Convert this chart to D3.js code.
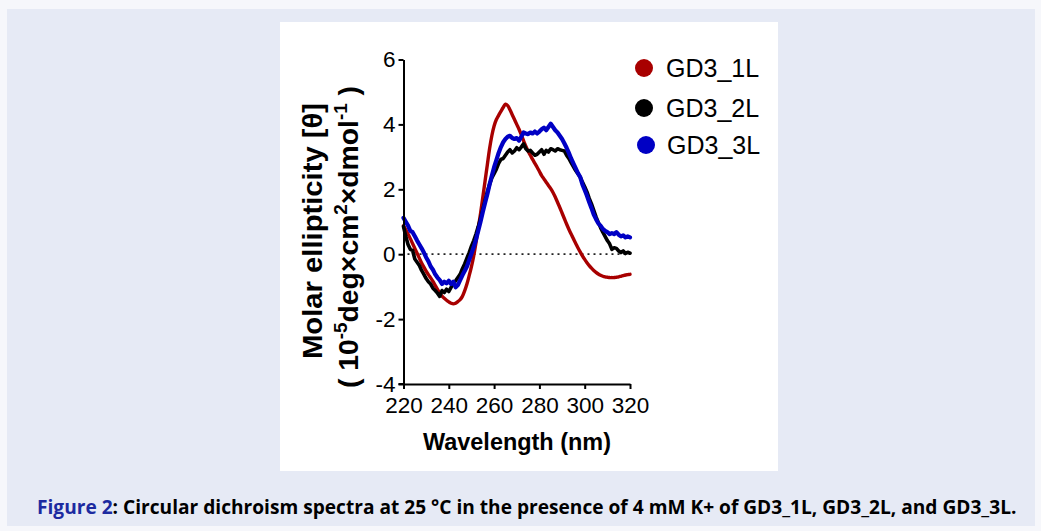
<!DOCTYPE html>
<html><head><meta charset="utf-8">
<script src="https://cdn.jsdelivr.net/npm/d3@7"></script>
<style>html,body{margin:0;padding:0;background:#f6f7fb;} svg{display:block}</style>
</head><body><svg id="c" width="1041" height="531"></svg>
<script>
// ---------- DATA ----------
const wavelength = [220,221,222,223,224,225,226,227,228,229,230,231,232,233,234,235,236,237,238,239,240,241,242,243,244,245,246,247,248,249,250,251,252,253,254,255,256,257,258,259,260,261,262,263,264,265,266,267,268,269,270,271,272,273,274,275,276,277,278,279,280,281,282,283,284,285,286,287,288,289,290,291,292,293,294,295,296,297,298,299,300,301,302,303,304,305,306,307,308,309,310,311,312,313,314,315,316,317,318,319,320];
const gd3_1L = [0.88,0.75,0.62,0.48,0.33,0.18,0.03,-0.12,-0.27,-0.40,-0.52,-0.63,-0.73,-0.84,-0.96,-1.08,-1.20,-1.29,-1.36,-1.42,-1.47,-1.51,-1.53,-1.51,-1.46,-1.40,-1.30,-1.13,-0.92,-0.66,-0.38,-0.05,0.35,0.80,1.25,1.75,2.25,2.75,3.25,3.65,3.95,4.15,4.28,4.40,4.52,4.62,4.58,4.45,4.30,4.15,4.00,3.85,3.68,3.50,3.33,3.18,3.05,2.92,2.80,2.68,2.55,2.42,2.32,2.22,2.12,2.02,1.90,1.76,1.60,1.44,1.27,1.10,0.93,0.77,0.62,0.48,0.34,0.20,0.07,-0.05,-0.16,-0.26,-0.35,-0.43,-0.50,-0.56,-0.61,-0.65,-0.68,-0.70,-0.71,-0.72,-0.72,-0.72,-0.71,-0.70,-0.68,-0.66,-0.64,-0.63,-0.62];
const gd3_2L = [0.85,0.55,0.30,0.15,0.12,-0.15,-0.25,-0.35,-0.50,-0.62,-0.75,-0.85,-0.92,-1.05,-1.12,-1.20,-1.30,-1.12,-1.18,-1.08,-1.15,-1.02,-0.90,-0.82,-0.72,-0.62,-0.45,-0.30,-0.12,0.05,0.25,0.42,0.62,0.85,1.10,1.38,1.65,1.92,2.15,2.35,2.48,2.62,2.80,2.92,2.95,3.05,3.15,3.22,3.12,3.18,3.28,3.22,3.30,3.40,3.25,3.18,3.20,3.12,3.05,3.08,3.15,3.22,3.08,3.20,3.15,3.25,3.22,3.18,3.25,3.22,3.20,3.18,3.05,2.95,2.82,2.70,2.58,2.48,2.38,2.22,2.08,1.92,1.72,1.55,1.35,1.15,0.98,0.82,0.68,0.55,0.42,0.32,0.15,0.20,0.18,0.10,0.05,0.10,0.02,0.06,0.03];
const gd3_3L = [1.12,1.00,0.88,0.72,0.68,0.55,0.42,0.30,0.18,0.05,-0.10,-0.22,-0.38,-0.48,-0.62,-0.72,-0.80,-0.92,-0.85,-0.90,-0.82,-0.92,-0.85,-1.02,-0.95,-0.80,-0.65,-0.52,-0.38,-0.18,0.02,0.22,0.45,0.72,1.00,1.30,1.58,1.85,2.15,2.42,2.68,2.90,3.12,3.30,3.45,3.55,3.62,3.65,3.58,3.55,3.58,3.50,3.62,3.75,3.72,3.70,3.75,3.72,3.78,3.72,3.78,3.85,3.90,3.82,3.92,4.02,3.92,3.82,3.75,3.65,3.55,3.42,3.28,3.12,2.95,2.80,2.65,2.50,2.38,2.15,1.98,1.80,1.60,1.42,1.22,1.08,0.95,0.88,0.78,0.72,0.68,0.62,0.65,0.62,0.68,0.60,0.55,0.58,0.52,0.55,0.52];
const seriesNames = ["GD3_1L","GD3_2L","GD3_3L"];
const seriesColors = ["#a80000","#000000","#0000c4"];
const xTickLabels = [220,240,260,280,300,320];
const yTickLabels = [-4,-2,0,2,4,6];
const yMinorTicks = [-3.6,-3.2,-2.8,-2.4,-1.6,-1.2,-0.8,-0.4,0.4,0.8,1.2,1.6,2.4,2.8,3.2,3.6,4.4,4.8,5.2,5.6];
const xMinorTicks = [225,230,235,245,250,255,265,270,275,285,290,295,305,310,315];

// ---------- DRAW ----------
const svg = d3.select("#c");
svg.append("rect").attr("x",7).attr("y",9).attr("width",1028).attr("height",517).attr("fill","#e6eaf5");
svg.append("rect").attr("x",280).attr("y",22).attr("width",498).attr("height",449).attr("fill","#ffffff");

const x = d3.scaleLinear().domain([220,320]).range([403.5,630]);
const y = d3.scaleLinear().domain([-4,6]).range([384,59.5]);
const axisFont = "'Liberation Sans', Arial, sans-serif";

// zero dotted line
svg.append("line").attr("x1",x(220)+4).attr("x2",x(320)).attr("y1",y(0)).attr("y2",y(0))
  .attr("stroke","#222").attr("stroke-width",1.8).attr("stroke-dasharray","2,4");

// Lines
const data = [gd3_1L, gd3_2L, gd3_3L];
const widths = [3.4, 3.6, 4.2];
data.forEach((vals,i)=>{
  const pts = wavelength.map((w,j)=>[w, vals[j]]);
  const line = d3.line().x(d=>x(d[0])).y(d=>y(d[1]));
  if(i===0) line.curve(d3.curveCatmullRom);
  svg.append("path").datum(pts).attr("d",line).attr("fill","none")
    .attr("stroke",seriesColors[i]).attr("stroke-width",widths[i])
    .attr("stroke-linejoin","round").attr("stroke-linecap","round");
});

// Y axis
const gy = svg.append("g").attr("transform",`translate(${x(220)},0)`);
gy.call(d3.axisLeft(y).tickValues(yMinorTicks).tickSize(3).tickSizeOuter(0).tickFormat(""));
gy.call(d3.axisLeft(y).tickValues(yTickLabels).tickSize(5).tickSizeOuter(0).tickPadding(3).tickFormat(d=>String(d)));
gy.selectAll("path.domain").attr("stroke-width",2).attr("stroke","#000");
gy.selectAll("line").attr("stroke-width",2).attr("stroke","#000");
gy.selectAll("text").attr("font-family",axisFont).attr("font-size",22.5).attr("fill","#000");

// X axis
const gx = svg.append("g").attr("transform",`translate(0,${y(-4)})`);
gx.call(d3.axisBottom(x).tickValues(xMinorTicks).tickSize(4).tickSizeOuter(0).tickFormat(""));
gx.call(d3.axisBottom(x).tickValues(xTickLabels).tickSize(5).tickSizeOuter(0).tickPadding(8).tickFormat(d=>String(d)));
gx.selectAll("path.domain").attr("stroke-width",2).attr("stroke","#000");
gx.selectAll("line").attr("stroke-width",2).attr("stroke","#000");
gx.selectAll("text").attr("font-family",axisFont).attr("font-size",22.5).attr("fill","#000");
svg.append("line").attr("x1",x(220)-5).attr("x2",x(220)).attr("y1",y(-4)).attr("y2",y(-4)).attr("stroke","#000").attr("stroke-width",2);

// X title
svg.append("text").attr("x",517).attr("y",450).attr("text-anchor","middle")
  .attr("font-family",axisFont).attr("font-weight","bold").attr("font-size",23)
  .attr("textLength",188).attr("lengthAdjust","spacingAndGlyphs")
  .text("Wavelength (nm)");

// Y title (two lines)
svg.append("text").attr("transform","translate(322,231) rotate(-90)")
  .attr("text-anchor","middle").attr("font-family",axisFont).attr("font-weight","bold").attr("font-size",27)
  .attr("textLength",256).attr("lengthAdjust","spacingAndGlyphs")
  .text("Molar ellipticity [θ]");
const t2 = svg.append("text").attr("transform","translate(358,237) rotate(-90)")
  .attr("text-anchor","middle").attr("font-family",axisFont).attr("font-weight","bold").attr("font-size",27)
  .attr("textLength",302).attr("lengthAdjust","spacingAndGlyphs");
t2.append("tspan").text("( 10");
t2.append("tspan").attr("dy",-11).attr("font-size",18).text("-5");
t2.append("tspan").attr("dy",11).text("deg×cm");
t2.append("tspan").attr("dy",-11).attr("font-size",18).text("2");
t2.append("tspan").attr("dy",11).text("×dmol");
t2.append("tspan").attr("dy",-11).attr("font-size",18).text("-1");
t2.append("tspan").attr("dy",11).text(" )");

// Legend
const legY = [68,108,145];
seriesNames.forEach((n,i)=>{
  svg.append("circle").attr("cx",644+(i===2?2:0)).attr("cy",legY[i]).attr("r",9).attr("fill",seriesColors[i]);
  svg.append("text").attr("x",666+(i===2?1:0)).attr("y",legY[i]+9).attr("font-family",axisFont)
    .attr("font-size",25).attr("fill","#000").text(n);
});

// Caption (horizontally condensed with a transform so its box matches what is drawn)
const capG = svg.append("g");
const cap = capG.append("text").attr("x",0).attr("y",0)
  .attr("font-family","'Open Sans',sans-serif").attr("font-weight","bold").attr("font-size",20);
cap.append("tspan").attr("fill","#1c2aa0").text("Figure 2");
cap.append("tspan").attr("fill","#000").text(": Circular dichroism spectra at 25 °C in the presence of 4 mM K+ of GD3_1L, GD3_2L, and GD3_3L.");
const natW = cap.node().getComputedTextLength();
const sx = Math.min(1, 980 / natW);
capG.attr("transform",`translate(37,514) scale(${sx},1)`);
</script></body></html>
